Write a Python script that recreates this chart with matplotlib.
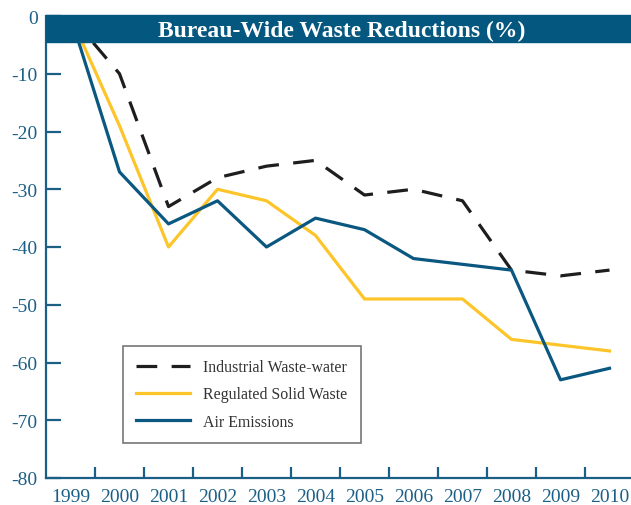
import matplotlib
matplotlib.use("Agg")
import matplotlib.pyplot as plt
from matplotlib.patches import Rectangle
import matplotlib.transforms as mtransforms

years = ["1999", "2000", "2001", "2002", "2003", "2004", "2005",
         "2006", "2007", "2008", "2009", "2010"]
industrial = [0, -10, -33, -28, -26, -25, -31, -30, -32, -44, -45, -44]
solid_waste = [0, -19, -40, -30, -32, -38, -49, -49, -49, -56, -57, -58]
air = [0, -27, -36, -32, -40, -35, -37, -42, -43, -44, -63, -61]

axis_blue = "#1b5f86"
bar_blue = "#04577f"
yellow = "#fdc52a"
line_blue = "#0a5780"

plt.rcParams['font.family'] = ['Liberation Serif', 'DejaVu Serif']
plt.rcParams['axes.unicode_minus'] = False

fig = plt.figure(figsize=(6.31, 5.06), dpi=100)
ax = fig.add_axes([46 / 631, 27 / 506, 585 / 631, 462 / 506])

x = list(range(len(years)))
ax.plot(x, industrial, color="#1e1e1e", lw=2.3, dashes=(6.5, 4.5),
        label="Industrial Waste-water")
ax.plot(x, solid_waste, color=yellow, lw=2.3, label="Regulated Solid Waste")
ax.plot(x, air, color=line_blue, lw=2.3, label="Air Emissions")

ax.set_xlim(-0.5, -0.5 + 585 / 49)
ax.set_ylim(-80, 0)
ax.set_yticks(range(-80, 1, 10))
ax.set_xticks(x)
ax.set_xticklabels(years)
ax.set_xticks([i + 0.5 for i in range(len(years) - 1)], minor=True)

for s in ["top", "right"]:
    ax.spines[s].set_visible(False)
for s in ["left", "bottom"]:
    ax.spines[s].set_color(axis_blue)
    ax.spines[s].set_linewidth(1.6)

ax.tick_params(axis="x", which="major", length=0, pad=7,
               labelsize=14, labelcolor=axis_blue)
ax.tick_params(axis="x", which="minor", direction="in", length=8,
               width=1.6, color=axis_blue)
ax.tick_params(axis="y", direction="in", length=11, width=1.6,
               color=axis_blue, labelsize=14, labelcolor=axis_blue, pad=6)

# title bar
trans = mtransforms.blended_transform_factory(ax.transAxes, ax.transData)
ax.add_patch(Rectangle((0, -4.5), 1.0, 4.7, transform=trans,
                       color=bar_blue, zorder=5, clip_on=False))
ax.text(0.505, -2.45, "Bureau-Wide Waste Reductions (%)", transform=trans,
        color="white", fontsize=17, fontweight="bold",
        ha="center", va="center", zorder=6)

leg = ax.legend(loc="lower left", bbox_to_anchor=(77 / 585, 35 / 462),
                frameon=True, fancybox=False, fontsize=11.4, handlelength=3.4,
                labelspacing=0.7, borderpad=0.85, handletextpad=0.8,
                borderaxespad=0)
leg.get_frame().set_edgecolor("#555555")
leg.get_frame().set_linewidth(1.2)
for t in leg.get_texts():
    t.set_color("#333333")

fig.savefig("out.png", dpi=100)
